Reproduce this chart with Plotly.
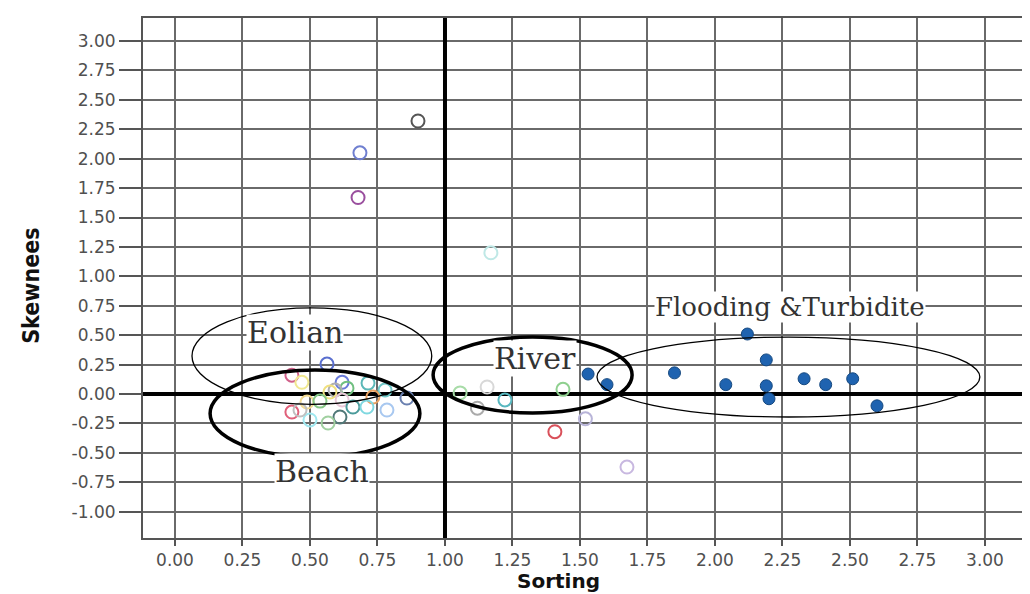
import plotly.graph_objects as go

# ---- data ----
flood_sorting = [1.53, 1.60, 1.85, 2.04, 2.12, 2.19, 2.19, 2.20, 2.33, 2.41, 2.51, 2.60]
flood_skew = [0.17, 0.08, 0.18, 0.08, 0.51, 0.29, 0.07, -0.04, 0.13, 0.08, 0.13, -0.10]

other_sorting = [0.90, 0.685, 0.678, 1.17, 1.056, 1.156, 1.12, 1.222, 1.437, 1.52, 1.407, 1.674,
                 0.563, 0.433, 0.47, 0.619, 0.715, 0.637, 0.778, 0.593, 0.574, 0.733, 0.859,
                 0.489, 0.537, 0.619, 0.659, 0.711, 0.785, 0.433, 0.50, 0.611, 0.567, 0.463]
other_skew = [2.32, 2.05, 1.67, 1.20, 0.01, 0.06, -0.12, -0.05, 0.04, -0.21, -0.32, -0.62,
              0.255, 0.16, 0.10, 0.10, 0.093, 0.05, 0.034, 0.034, 0.017, -0.025, -0.034,
              -0.068, -0.06, -0.05, -0.11, -0.11, -0.136, -0.153, -0.22, -0.195, -0.246, -0.136]

x_ticks = [0.0, 0.25, 0.5, 0.75, 1.0, 1.25, 1.5, 1.75, 2.0, 2.25, 2.5, 2.75, 3.0]
y_ticks = [-1.0, -0.75, -0.5, -0.25, 0.0, 0.25, 0.5, 0.75, 1.0, 1.25, 1.5, 1.75, 2.0,
           2.25, 2.5, 2.75, 3.0]

zones = ["Eolian", "Beach", "River", "Flooding &Turbidite"]
zone_x = [(0.063, 0.951), (0.13, 0.907), (0.956, 1.693), (1.563, 2.981)]
zone_y = [(-0.087, 0.733), (-0.535, 0.204), (-0.161, 0.484), (-0.195, 0.484)]
label_pos = [(0.444, 0.527), (0.544, -0.654), (1.333, 0.306), (2.278, 0.74)]

# ---- styles ----
other_colors = ['#555555', '#6f7fd0', '#9a4f9e', '#bfe8e6', '#a8dca8', '#d8d8d8', '#aaaaaa',
                '#58b8c0', '#8fd08f', '#b8b4d8', '#d9505a', '#c8b8e0', '#5a6fcf', '#d0608a',
                '#f0e890', '#6a7ad8', '#5cb8b8', '#6fbf7f', '#70c8c8', '#b0b0b0', '#f0e080',
                '#e8a060', '#6a80b0', '#f0d890', '#88c888', '#e8c8d8', '#4a9a9a', '#80d8e0',
                '#a8c8f0', '#e0607a', '#a0e8f0', '#507878', '#a0d0a0', '#c0c0c0']
zone_width = [1.3, 3.5, 3.5, 1.3]
label_size = [30, 30, 30, 26]

XR = [-0.1185, 3.1667]
YR = [-1.223, 3.195]

fig = go.Figure()
fig.add_trace(go.Scatter(
    x=other_sorting, y=other_skew, mode='markers',
    marker=dict(symbol='circle-open', size=13, color=other_colors, line=dict(width=2)),
    showlegend=False, hoverinfo='x+y'))
fig.add_trace(go.Scatter(
    x=flood_sorting, y=flood_skew, mode='markers',
    marker=dict(symbol='circle', size=12, color='#1f63b0', line=dict(width=1, color='#15487f')),
    showlegend=False, hoverinfo='x+y'))

shapes = [
    dict(type='line', x0=1.0, x1=1.0, y0=YR[0], y1=YR[1], xref='x', yref='y',
         line=dict(color='black', width=4), layer='between'),
    dict(type='line', x0=XR[0], x1=XR[1], y0=0.0, y1=0.0, xref='x', yref='y',
         line=dict(color='black', width=4), layer='between'),
]
for (x0, x1), (y0, y1), w in zip(zone_x, zone_y, zone_width):
    shapes.append(dict(type='circle', x0=x0, x1=x1, y0=y0, y1=y1, xref='x', yref='y',
                       line=dict(color='black', width=w), layer='above'))

annotations = []
for name, (lx, ly), fs in zip(zones, label_pos, label_size):
    annotations.append(dict(x=lx, y=ly, xref='x', yref='y', text=name, showarrow=False,
                            font=dict(family='DejaVu Serif', size=fs, color='#333333'),
                            bgcolor='white', borderpad=0))
annotations.append(dict(x=0.468, y=0, xref='paper', yref='paper', text='<b>Sorting</b>',
                        showarrow=False, yanchor='middle', yshift=-43,
                        font=dict(family='DejaVu Sans', size=20, color='#111111')))
annotations.append(dict(x=0, y=0.485, xref='paper', yref='paper', text='<b>Skewnees</b>',
                        showarrow=False, textangle=-90, xanchor='center', xshift=-112,
                        font=dict(family='Liberation Sans Narrow, DejaVu Sans Condensed, Liberation Sans',
                                  size=23, color='#111111')))

# page body has an 8px margin, so the figure is sized to fit the remaining window
fig.update_layout(
    width=1022, height=586,
    margin=dict(l=135, r=0, t=10, b=56),
    paper_bgcolor='white', plot_bgcolor='white',
    shapes=shapes, annotations=annotations,
    xaxis=dict(range=XR, tickvals=x_ticks, ticktext=[f"{v:.2f}" for v in x_ticks],
               showgrid=True, gridcolor='#6a6a6a', gridwidth=2, zeroline=False,
               showline=True, linecolor='#555555', linewidth=2, mirror=True,
               ticks='outside', ticklen=6, tickwidth=2, tickcolor='#555555',
               tickfont=dict(family='DejaVu Sans', size=17, color='#505050')),
    yaxis=dict(range=YR, tickvals=y_ticks, ticktext=[f"{v:.2f}" for v in y_ticks],
               showgrid=True, gridcolor='#6a6a6a', gridwidth=2, zeroline=False,
               showline=True, linecolor='#555555', linewidth=2,
               ticks='outside', ticklen=22, tickwidth=2, tickcolor='#555555',
               tickfont=dict(family='DejaVu Sans', size=17, color='#505050')),
)

fig.write_html("out.html")
